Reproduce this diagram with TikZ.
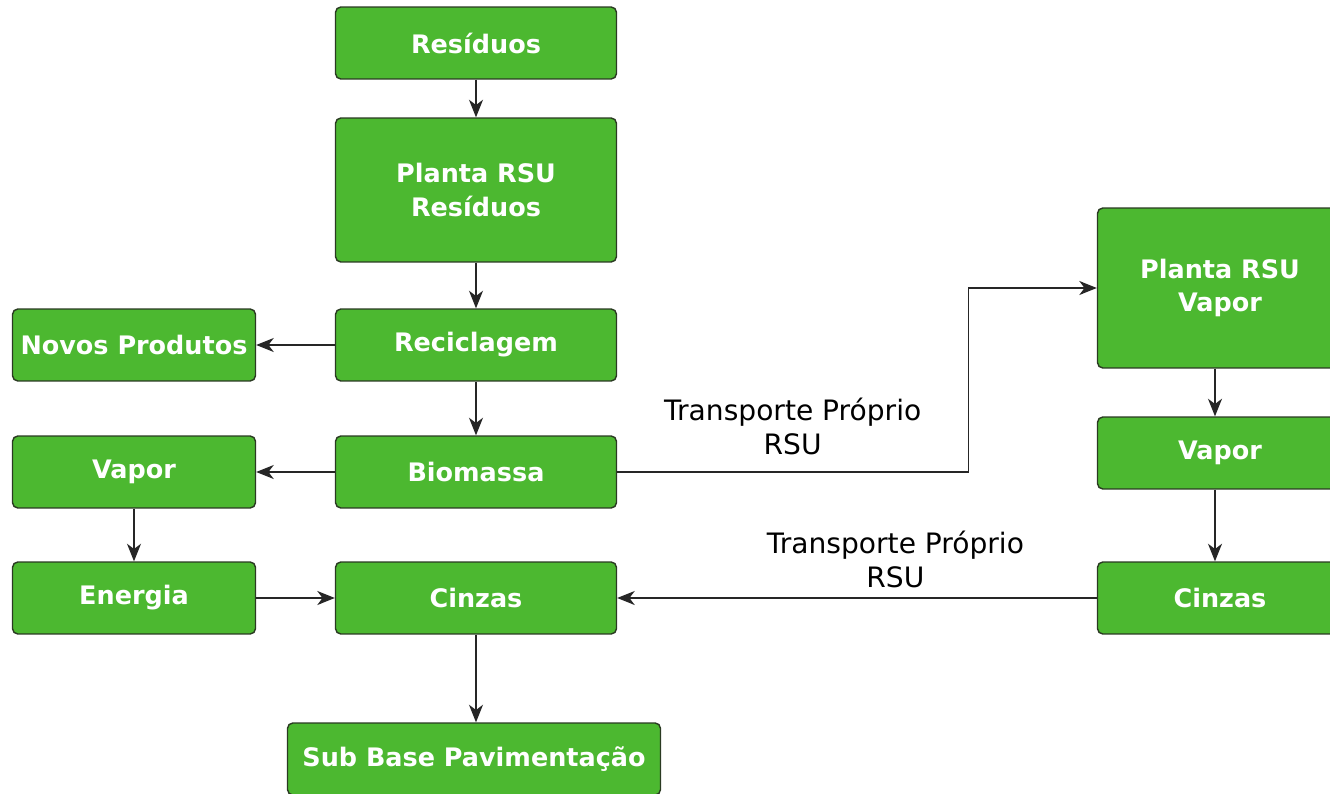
\documentclass[tikz,border=0pt]{standalone}
\usepackage{fontspec}
\setmainfont{DejaVu Sans}
\usepackage{tikz}
\usetikzlibrary{arrows.meta}
\definecolor{boxgreen}{HTML}{4CB830}
\definecolor{boxedge}{HTML}{2A3A22}

\begin{document}
\begin{tikzpicture}[x=0.02cm,y=-0.02cm,
    box/.style={draw=boxedge,line width=0.8pt,fill=boxgreen,rounded corners=3pt,text=white,
      font=\fontsize{14.5}{19}\selectfont\bfseries,align=center,inner sep=0pt,
      minimum width=5.62cm,minimum height=1.44cm},
    sidebox/.style={box,minimum width=4.86cm},
    rightbox/.style={box,minimum width=4.9cm},
    flow/.style={-{Stealth[length=10pt,width=8pt,inset=3pt]},line width=0.6pt,black!85},
    tag/.style={font=\fontsize{16}{19.5}\selectfont,align=center,text=black}]
    \useasboundingbox (0,0) rectangle (1330,794);
    % coluna central
    \node[box] (res) at (476,43) {Resíduos};
    \node[box,minimum height=2.88cm] (plantares) at (476,190) {Planta RSU\\Resíduos};
    \node[box] (recic) at (476,345) {Reciclagem};
    \node[box] (biom) at (476,472) {Biomassa};
    \node[box] (cinz) at (476,598) {Cinzas};
    \node[box,minimum width=7.46cm] (subbase) at (474,759) {Sub Base Pavimentação};
    % coluna esquerda
    \node[sidebox] (novos) at (134,345) {Novos Produtos};
    \node[sidebox] (vapl) at (134,472) {Vapor};
    \node[sidebox] (energ) at (134,598) {Energia};
    % coluna direita
    \node[rightbox,minimum height=3.2cm] (plantav) at (1220,288) {Planta RSU\\Vapor};
    \node[rightbox] (vapr) at (1220,453) {Vapor};
    \node[rightbox] (cinzr) at (1220,598) {Cinzas};

    \draw[flow] (res) -- (plantares);
    \draw[flow] (plantares) -- (recic);
    \draw[flow] (recic) -- (biom);
    \draw[flow] (recic) -- (novos);
    \draw[flow] (biom) -- (vapl);
    \draw[flow] (vapl) -- (energ);
    \draw[flow] (energ) -- (cinz);
    \draw[flow] (cinz) -- (subbase.north -| cinz);
    \draw[flow] (biom.east) -- ++(351,0) node[tag,midway,above=6pt] {Transporte Próprio\\RSU} |- (plantav.west);
    \draw[flow] (plantav.south -| 1215,0) -- (vapr.north -| 1215,0);
    \draw[flow] (vapr.south -| 1215,0) -- (cinzr.north -| 1215,0);
    \draw[flow] (cinzr) -- (cinz) node[tag,pos=0.42,above=2pt] {Transporte Próprio\\RSU};
  \end{tikzpicture}
\end{document}
